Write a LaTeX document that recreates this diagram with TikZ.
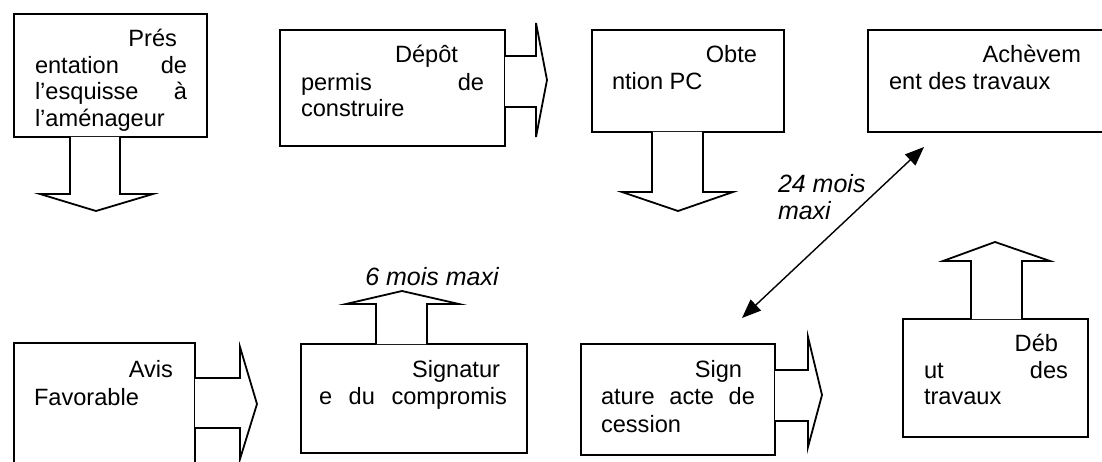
\documentclass[tikz,border=0pt]{standalone}
\usepackage{fontspec}
\setmainfont{Liberation Sans}
\usetikzlibrary{arrows.meta}
\tikzset{
  box/.style={draw, line width=1.8pt, rectangle, inner sep=0pt, outer sep=0pt, anchor=north west},
  blockarrow/.style={draw, line width=1.8pt, fill=white, line join=miter},
  txt/.style={inner sep=0pt, outer sep=0pt, font=\fontsize{23.6}{27}\selectfont},
  itxt/.style={inner sep=0pt, outer sep=0pt, font=\fontsize{25}{28}\selectfont\itshape},
  dbl/.style={line width=1.4pt, {Triangle[length=19pt,width=15pt]}-{Triangle[length=19pt,width=15pt]}}
}
\begin{document}
\begin{tikzpicture}[x=1pt,y=-1pt]
\useasboundingbox (0,0) rectangle (1102,462);
\clip (0,0) rectangle (1102,462);
\fill[white] (0,0) rectangle (1102,462);

% boxes
\node[box, minimum width=193pt, minimum height=123pt] (b1) at (14,14) {};
\node[box, minimum width=225pt, minimum height=116pt] (b2) at (280,30) {};
\node[box, minimum width=192pt, minimum height=102pt] (b3) at (592,30) {};
\node[box, minimum width=250pt, minimum height=102pt] (b4) at (868,30) {};
\node[box, minimum width=181pt, minimum height=135pt] (b5) at (14,343) {};
\node[box, minimum width=226pt, minimum height=109pt] (b6) at (301,344) {};
\node[box, minimum width=194pt, minimum height=111pt] (b7) at (581,344) {};
\node[box, minimum width=185pt, minimum height=118pt] (b8) at (903,319) {};

% block arrows
\draw[blockarrow] (70,137) -- (70,194) -- (40,194) -- (96,211) -- (153,194) -- (120,194) -- (120,137);
\draw[blockarrow] (505,56) -- (536,56) -- (536,23) -- (547,80) -- (536,137) -- (536,107) -- (505,107);
\draw[blockarrow] (652,132) -- (652,192) -- (622,192) -- (678,211) -- (733,192) -- (703,192) -- (703,132);
\draw[blockarrow] (195,378) -- (240,378) -- (240,347) -- (257,404) -- (240,459) -- (240,428) -- (195,428);
\draw[blockarrow] (376,344) -- (376,304) -- (346,304) -- (402,291) -- (459,304) -- (427,304) -- (427,344);
\draw[blockarrow] (775,370) -- (808,370) -- (808,337) -- (822,395) -- (808,447) -- (808,421) -- (775,421);
\draw[blockarrow] (971,319) -- (971,261) -- (943,261) -- (995,242) -- (1050,261) -- (1022,261) -- (1022,319);

% double arrow
\coordinate (da) at (742,318);
\coordinate (db) at (924,147);
\draw[dbl] (da) -- (db);

% texts box 1
\node[txt, anchor=base east] (t1a) at (177,47) {Prés};
\node[txt, anchor=base west] (t1b) at (35,74) {entation};
\node[txt, anchor=base east] (t1c) at (187,74) {de};
\node[txt, anchor=base west] (t1d) at (35,100) {l’esquisse};
\node[txt, anchor=base east] (t1e) at (187,100) {à};
\node[txt, anchor=base west] (t1f) at (35,127) {l’aménageur};
% box 2
\node[txt, anchor=base east] (t2a) at (458,63) {Dépôt};
\node[txt, anchor=base west] (t2b) at (301,91) {permis};
\node[txt, anchor=base east] (t2c) at (484,91) {de};
\node[txt, anchor=base west] (t2d) at (301,117) {construire};
% box 3
\node[txt, anchor=base east] (t3a) at (757,63) {Obte};
\node[txt, anchor=base west] (t3b) at (612,90) {ntion PC};
% box 4
\node[txt, anchor=base east] (t4a) at (1081,63) {Achèvem};
\node[txt, anchor=base west] (t4b) at (889,90) {ent des travaux};
% box 5
\node[txt, anchor=base east] (t5a) at (173,377) {Avis};
\node[txt, anchor=base west] (t5b) at (34,405) {Favorable};
% box 6
\node[txt, anchor=base east] (t6a) at (500,377) {Signatur};
\node[txt, anchor=base west] (t6b) at (319,404) {\makebox[188pt][s]{e\hfill du\hfill compromis}};
% box 7
\node[txt, anchor=base east] (t7a) at (742,377) {Sign};
\node[txt, anchor=base west] (t7b) at (601,404) {\makebox[154pt][s]{ature\hfill acte\hfill de}};
\node[txt, anchor=base west] (t7c) at (601,432) {cession};
% box 8
\node[txt, anchor=base east] (t8a) at (1058,351) {Déb};
\node[txt, anchor=base west] (t8b) at (924,378) {ut};
\node[txt, anchor=base east] (t8c) at (1068,378) {des};
\node[txt, anchor=base west] (t8d) at (924,404) {travaux};

% labels
\node[itxt, anchor=base] (l6) at (432,285) {6 mois maxi};
\node[itxt, anchor=base west] (l24a) at (778,193) {24 mois};
\node[itxt, anchor=base west] (l24b) at (778,220) {maxi};
\end{tikzpicture}
\end{document}
